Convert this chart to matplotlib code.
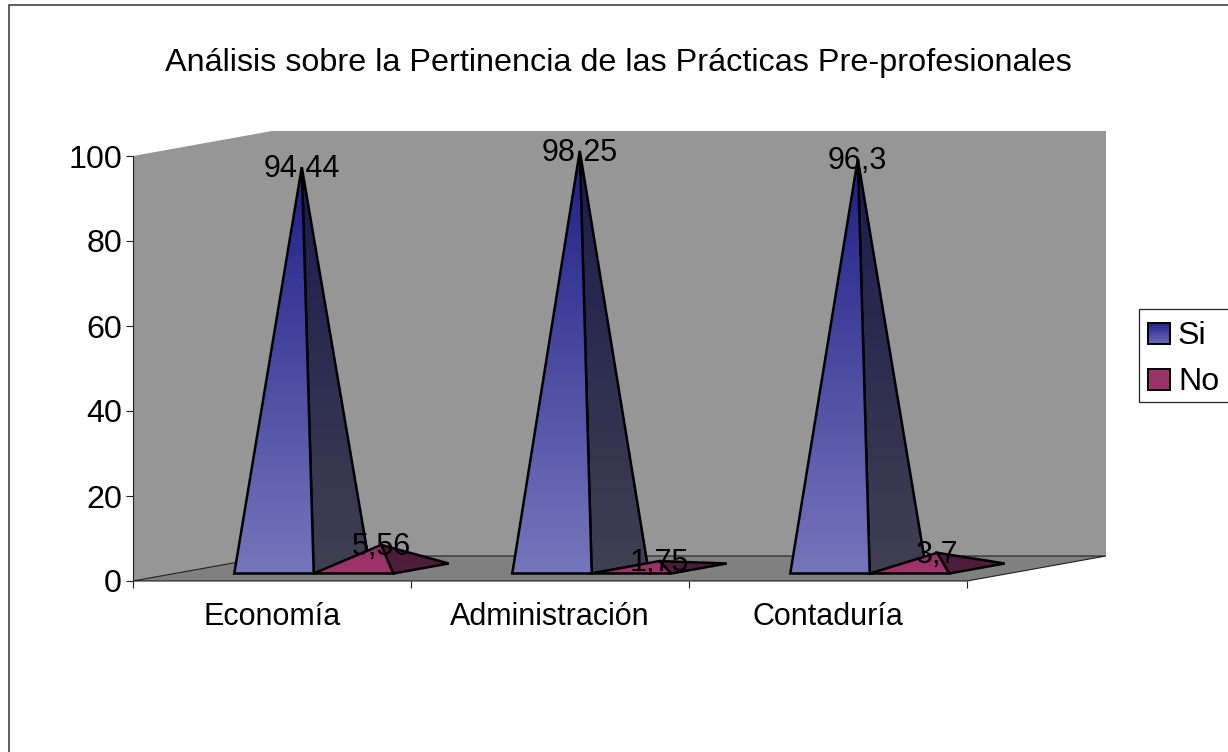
import numpy as np
import matplotlib
matplotlib.use('Agg')
import matplotlib.pyplot as plt
from matplotlib.colors import LinearSegmentedColormap
from matplotlib.patches import Polygon, Rectangle

plt.rcParams['font.family'] = ['Liberation Sans', 'DejaVu Sans']

# datos
categories = ['Economía', 'Administración', 'Contaduría']
si_values = [94.44, 98.25, 96.3]
no_values = [5.56, 1.75, 3.7]
y_ticks = [0, 20, 40, 60, 80, 100]

FIG_W, FIG_H = 1228, 752
# plano frontal en pixeles
LEFT, RIGHT, TOP, BOTTOM = 133, 967, 156, 581

# desplazamiento de la profundidad, en unidades de los ejes
DX = 0.5
DY = 25 / 4.25
BAR_W = 1 / 3.5
D_FRONT, D_BACK = 0.3, 0.7

WALL = '#969696'
FLOOR = '#808080'
FS = 23.2
FS_SMALL = 22


def project(x, v, d):
    return x + d * DX, v + d * DY


def gradient_face(ax, pts, c_top, c_bottom, z):
    # triangulo relleno con degradado vertical
    poly = Polygon(pts, closed=True, facecolor='none', edgecolor='black',
                   linewidth=1.8, joinstyle='miter', zorder=z + 0.1, clip_on=False)
    ax.add_patch(poly)
    xs = [p[0] for p in pts]
    ys = [p[1] for p in pts]
    cmap = LinearSegmentedColormap.from_list('g', [c_bottom, c_top])
    img = ax.imshow(np.linspace(1, 0, 256).reshape(-1, 1), cmap=cmap, aspect='auto',
                    extent=(min(xs), max(xs), min(ys), max(ys)), zorder=z, vmin=0, vmax=1)
    img.set_clip_path(Polygon(pts, closed=True, transform=ax.transData))
    # la cara puede salir del recuadro de los ejes
    img.set_clip_box(ax.figure.bbox)


def pyramid(ax, xc, w, v, front, side, z):
    x0, x1 = xc, xc + w
    fl = project(x0, 0, D_FRONT)
    fr = project(x1, 0, D_FRONT)
    br = project(x1, 0, D_BACK)
    apex = project(xc + w / 2, v, (D_FRONT + D_BACK) / 2)
    gradient_face(ax, [fr, br, apex], side[0], side[1], z)
    gradient_face(ax, [fl, fr, apex], front[0], front[1], z + 0.2)
    return apex


fig = plt.figure(figsize=(FIG_W / 100, FIG_H / 100), dpi=100)
ax = fig.add_axes([LEFT / FIG_W, 1 - BOTTOM / FIG_H, (RIGHT - LEFT) / FIG_W, (BOTTOM - TOP) / FIG_H])
ax.patch.set_visible(False)
for s in ['top', 'right', 'bottom', 'left']:
    ax.spines[s].set_visible(False)

# paredes y piso
wall_l = [project(0, 0, 0), project(0, 100, 0), project(0, 100, 1), project(0, 0, 1)]
wall_b = [project(0, 0, 1), project(0, 100, 1), project(3, 100, 1), project(3, 0, 1)]
floor = [project(0, 0, 0), project(3, 0, 0), project(3, 0, 1), project(0, 0, 1)]
ax.add_patch(Polygon(wall_l, closed=True, facecolor=WALL, edgecolor='none', clip_on=False, zorder=1))
ax.add_patch(Polygon(wall_b, closed=True, facecolor=WALL, edgecolor='none', clip_on=False, zorder=1))
ax.add_patch(Polygon(floor, closed=True, facecolor=FLOOR, edgecolor='#202020', linewidth=0.8,
                     clip_on=False, zorder=1.5))

# piramides
labels = []
for i in range(len(categories)):
    apex = pyramid(ax, i + 0.5 - BAR_W, BAR_W, si_values[i],
                   ('#1f1f86', '#7676bc'), ('#1b1b4e', '#404052'), 2 + i)
    labels.append((apex, si_values[i]))
    apex = pyramid(ax, i + 0.5, BAR_W, no_values[i],
                   ('#96306a', '#a03468'), ('#4a1a3c', '#521e3c'), 2.5 + i)
    labels.append((apex, no_values[i]))

for apex, v in labels:
    ax.annotate(str(v).replace('.', ','), apex, xytext=(0, -1.5), textcoords='offset points',
                ha='center', va='center', fontsize=FS_SMALL, color='black', zorder=10,
                annotation_clip=False)

ax.set_xlim(0, 3)
ax.set_ylim(0, 100)
ax.set_yticks(y_ticks)
ax.set_xticks([0, 1, 2, 3])
ax.set_xticklabels([])
ax.tick_params(axis='both', length=5, width=0.8, color='#202020', labelsize=FS, pad=3)
ax.plot([0, 0], [0, 100], color='#202020', lw=0.8, zorder=1.6, clip_on=False)

for i, c in enumerate(categories):
    ax.annotate(c, (i + 0.5, 0), xycoords=('data', 'axes fraction'), xytext=(0, -26),
                textcoords='offset points', ha='center', va='center', fontsize=FS_SMALL)

# titulo
fig.text(618.5 / FIG_W, 1 - 63 / FIG_H, 'Análisis sobre la Pertinencia de las Prácticas Pre-profesionales',
         ha='center', va='center', fontsize=23.3)

# marco del grafico, se sale por la derecha y por abajo
fig.add_artist(Rectangle((8.5 / FIG_W, -0.05), 1.2, 1.05 - 5.5 / FIG_H, transform=fig.transFigure,
                         facecolor='none', edgecolor='#333333', linewidth=1.1))

# leyenda
fig.add_artist(Rectangle((1139 / FIG_W, 1 - 402 / FIG_H), 120 / FIG_W, 93 / FIG_H, transform=fig.transFigure,
                         facecolor='white', edgecolor='#222222', linewidth=0.9, zorder=5))
legend_items = [('Si', 323, '#222288', '#6c6cb6'), ('No', 369, '#9a3268', '#9a3268')]
for name, y, c_top, c_bottom in legend_items:
    sw = fig.add_axes([1148 / FIG_W, 1 - (y + 21) / FIG_H, 22 / FIG_W, 21 / FIG_H], zorder=6)
    cm = LinearSegmentedColormap.from_list('s', [c_top, c_bottom])
    sw.imshow(np.linspace(0, 1, 64).reshape(-1, 1), cmap=cm, aspect='auto')
    sw.set_xticks([])
    sw.set_yticks([])
    for s in sw.spines.values():
        s.set_linewidth(1.4)
    fig.text(1178 / FIG_W, 1 - (y + 13) / FIG_H, name, ha='left', va='center', fontsize=FS, zorder=7)

fig.savefig('out.png', dpi=100)
